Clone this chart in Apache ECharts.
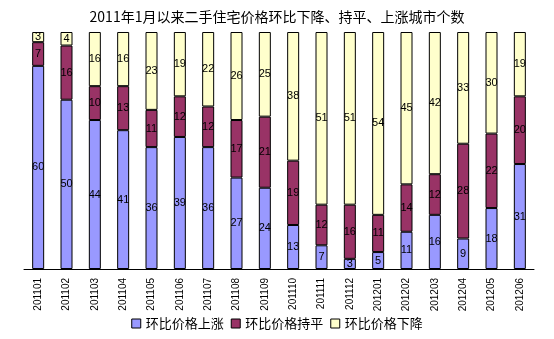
<!DOCTYPE html>
<html><head><meta charset="utf-8">
<script src="https://cdn.jsdelivr.net/npm/echarts@6/dist/echarts.min.js"></script>
<style>html,body{margin:0;padding:0;background:#fff}#c{width:554px;height:339px}</style>
</head><body><div id="c"></div>
<script>
var categories = ['201101','201102','201103','201104','201105','201106','201107','201108','201109','201110','201111','201112','201201','201202','201203','201204','201205','201206'];
var rising = [60,50,44,41,36,39,36,27,24,13,7,3,5,11,16,9,18,31];
var flat = [7,16,10,13,11,12,12,17,21,19,12,16,11,14,12,28,22,20];
var falling = [3,4,16,16,23,19,22,26,25,38,51,51,54,45,42,33,30,19];
var names = ['环比价格上涨','环比价格持平','环比价格下降'];
var colors = ['#9999FF','#993366','#FFFFCC'];
var font = '"Noto Sans CJK SC", sans-serif';
function s(i, d){
  return {name:names[i], type:'bar', stack:'a', data:d, barWidth:12,
    itemStyle:{color:colors[i], borderColor:'#000', borderWidth:1},
    label:{show:true, position:'inside', color:'#000', fontSize:11, fontFamily:'Arial, "Liberation Sans", sans-serif'}};
}
var chart = echarts.init(document.getElementById('c'));
chart.setOption({
  animation:false,
  title:{text:'2011年1月以来二手住宅价格环比下降、持平、上涨城市个数', left:'center', top:5,
    textStyle:{fontSize:14, fontWeight:'normal', color:'#000', fontFamily:font}},
  legend:{bottom:4, left:'center', icon:'rect', itemWidth:9, itemHeight:9, itemGap:7,
    textStyle:{fontSize:13, color:'#000', fontFamily:font},
    data:names.map(function(n,i){return {name:n, itemStyle:{color:colors[i], borderColor:'#000', borderWidth:1}};})},
  grid:{left:24, right:20, top:32, bottom:70},
  xAxis:{type:'category', data:categories,
    axisLine:{lineStyle:{color:'#000', width:1}},
    axisTick:{inside:true, length:3, lineStyle:{color:'#000'}},
    axisLabel:{rotate:90, fontSize:10, color:'#000', margin:9, fontFamily:'Arial, "Liberation Sans", sans-serif'}},
  yAxis:{type:'value', min:0, max:70, show:false},
  series:[s(0,rising), s(1,flat), s(2,falling)]
});
</script></body></html>
